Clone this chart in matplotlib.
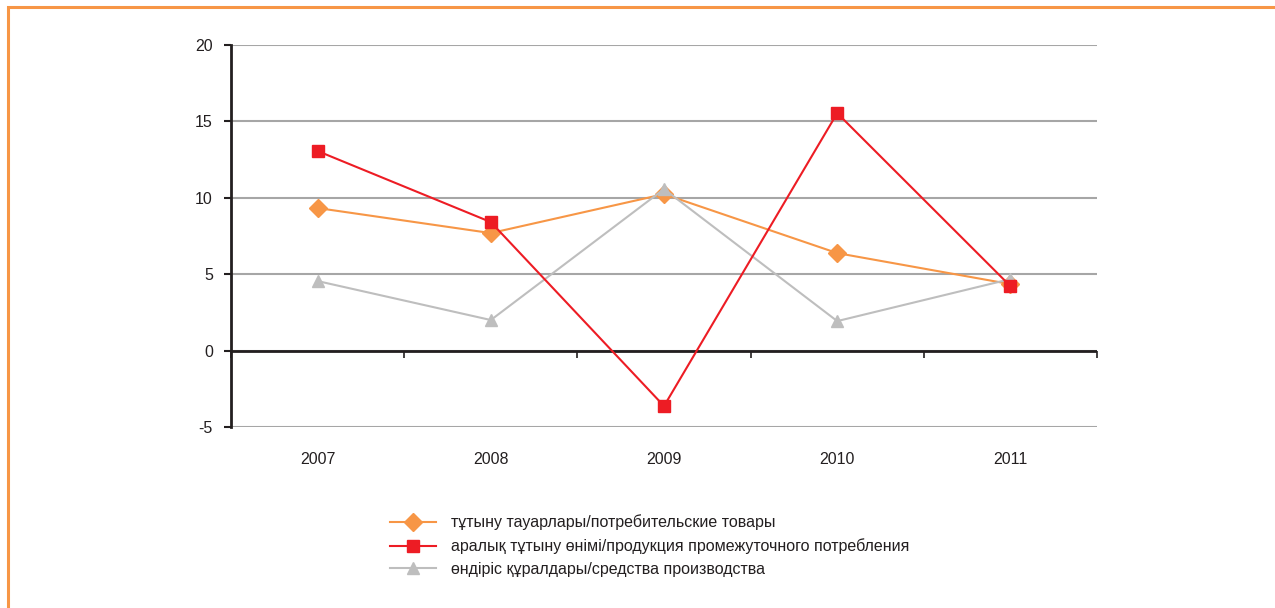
import numpy as np
import matplotlib.pyplot as plt
from matplotlib.patches import Rectangle

plt.rcParams['font.family'] = ['Liberation Sans', 'DejaVu Sans']

years = ['2007', '2008', '2009', '2010', '2011']
consumer = [9.33, 7.69, 10.24, 6.38, 4.35]
intermediate = [13.06, 8.41, -3.63, 15.54, 4.22]
capital = [4.55, 2.0, 10.57, 1.93, 4.68]

labels = ['тұтыну тауарлары/потребительские товары',
          'аралық тұтыну өнімі/продукция промежуточного потребления',
          'өндіріс құралдары/средства производства']

c_orange = '#F79646'
c_red = '#ED1C24'
c_gray = '#BEBEBE'
txt = '#231F20'

fig = plt.figure(figsize=(12.75, 6.08), dpi=100)
ax = fig.add_axes([0.1812, 0.2977, 0.6792, 0.6283])

x = np.arange(len(years))
ax.plot(x, consumer, color=c_orange, lw=1.5, marker='D', ms=9, label=labels[0], zorder=3)
ax.plot(x, intermediate, color=c_red, lw=1.5, marker='s', ms=9, label=labels[1], zorder=4)
ax.plot(x, capital, color=c_gray, lw=1.5, marker='^', ms=8, label=labels[2], zorder=3)

ax.set_xlim(-0.5, len(years) - 0.5)
ax.set_ylim(-5, 20)
ax.set_yticks([-5, 0, 5, 10, 15, 20])
ax.set_yticklabels(['-5', '0', '5', '10', '15', '20'])
ax.yaxis.grid(True, color='#A6A6A6', lw=1.5)
ax.set_axisbelow(True)
ax.tick_params(axis='y', direction='out', length=5, width=1.5, color=txt,
               labelsize=11.5, labelcolor=txt, pad=8)

ax.set_xticks(x)
ax.set_xticklabels(years)
ax.tick_params(axis='x', length=0, labelsize=11.5, labelcolor=txt, pad=18)

for s in ['top', 'right', 'bottom']:
    ax.spines[s].set_visible(False)
ax.spines['left'].set_color(txt)
ax.spines['left'].set_linewidth(2)

# category axis drawn at y = 0
ax.axhline(0, color=txt, lw=2, zorder=2)
sec = ax.secondary_xaxis(0.2)
sec.set_xticks(np.arange(-0.5, len(years), 1.0))
sec.set_xticklabels([])
sec.tick_params(direction='out', length=5, width=1.2, color=txt)
sec.spines['bottom'].set_visible(False)

fig.legend(loc='upper left', bbox_to_anchor=(0.2996, 0.167), frameon=False,
           fontsize=11.5, handlelength=2.9, handletextpad=0.9,
           labelspacing=0.5, labelcolor=txt, borderpad=0)

fig.patches.append(Rectangle((0.0063, -0.1), 1.2, 1.0885, transform=fig.transFigure,
                             fill=False, edgecolor=c_orange, lw=2.2))

fig.savefig('out.png', dpi=100)
